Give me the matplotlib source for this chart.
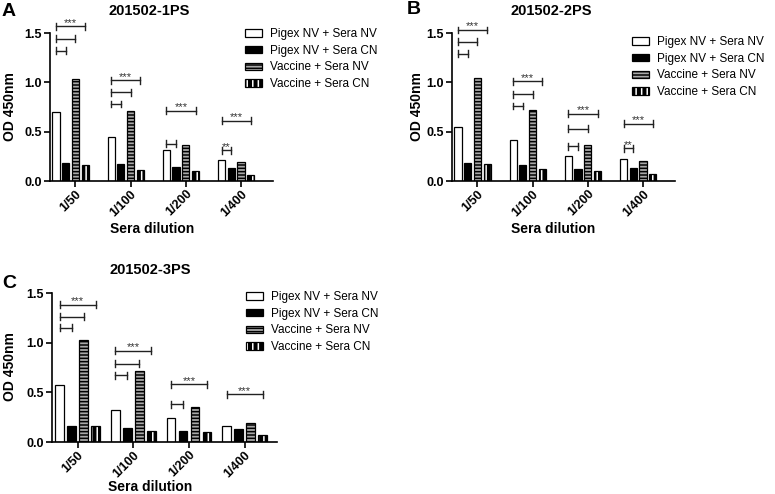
import matplotlib
matplotlib.use("Agg")
import matplotlib.pyplot as plt
from matplotlib.patches import Patch
import numpy as np

plt.rcParams['font.family'] = ['Liberation Sans', 'DejaVu Sans']
plt.rcParams['hatch.linewidth'] = 1.1

dilutions = ['1/50', '1/100', '1/200', '1/400']
series_names = ['Pigex NV + Sera NV', 'Pigex NV + Sera CN',
                'Vaccine + Sera NV', 'Vaccine + Sera CN']
titles = ['201502-1PS', '201502-2PS', '201502-3PS']
letters = ['A', 'B', 'C']

# panel A
a_pigex_nv = [0.70, 0.45, 0.31, 0.21]
a_pigex_cn = [0.18, 0.17, 0.14, 0.13]
a_vacc_nv = [1.03, 0.71, 0.36, 0.19]
a_vacc_cn = [0.16, 0.11, 0.10, 0.06]
# (group, bar compared with Pigex NV + Sera NV, height, label)
a_sig = [(0, 1, 1.32, ''), (0, 2, 1.44, ''), (0, 3, 1.57, '***'),
         (1, 1, 0.78, ''), (1, 2, 0.90, ''), (1, 3, 1.02, '***'),
         (2, 1, 0.38, ''), (2, 3, 0.71, '***'),
         (3, 1, 0.31, '**'), (3, 3, 0.61, '***')]

# panel B
b_pigex_nv = [0.55, 0.42, 0.25, 0.22]
b_pigex_cn = [0.18, 0.16, 0.12, 0.13]
b_vacc_nv = [1.04, 0.72, 0.36, 0.20]
b_vacc_cn = [0.17, 0.12, 0.10, 0.07]
b_sig = [(0, 1, 1.29, ''), (0, 2, 1.41, ''), (0, 3, 1.53, '***'),
         (1, 1, 0.76, ''), (1, 2, 0.88, ''), (1, 3, 1.01, '***'),
         (2, 1, 0.35, ''), (2, 2, 0.53, ''), (2, 3, 0.68, '***'),
         (3, 1, 0.33, '**'), (3, 3, 0.58, '***')]

# panel C
c_pigex_nv = [0.57, 0.32, 0.24, 0.16]
c_pigex_cn = [0.16, 0.14, 0.11, 0.13]
c_vacc_nv = [1.03, 0.71, 0.35, 0.19]
c_vacc_cn = [0.16, 0.11, 0.10, 0.07]
c_sig = [(0, 1, 1.15, ''), (0, 2, 1.26, ''), (0, 3, 1.38, '***'),
         (1, 1, 0.67, ''), (1, 2, 0.79, ''), (1, 3, 0.92, '***'),
         (2, 1, 0.38, ''), (2, 3, 0.58, '***'),
         (3, 3, 0.48, '***')]

W, H = 775, 494


def fx(x):
    return x / W


def fy(y):
    return 1 - y / H


def draw_panel(ax, values, sig, offsets, width):
    x = np.arange(len(dilutions))
    ax.bar(x + offsets[0], values[0], width, facecolor='white', edgecolor='black', linewidth=0.9)
    ax.bar(x + offsets[1], values[1], width, facecolor='black', edgecolor='black', linewidth=0.9)
    ax.bar(x + offsets[2], values[2], width, facecolor='#a8a8a8', edgecolor='black',
           hatch='-----', linewidth=0.9)
    ax.bar(x + offsets[3], values[3], width, facecolor='black', edgecolor='white',
           hatch='|||', linewidth=0.5)
    ax.bar(x + offsets[3], values[3], width, fill=False, edgecolor='black', linewidth=0.9)

    cap = 0.035
    for g, k, y, label in sig:
        x0 = g + offsets[0]
        x1 = g + offsets[k]
        kw = dict(color='#222222', lw=1.0, clip_on=False)
        ax.plot([x0, x1], [y, y], **kw)
        ax.plot([x0, x0], [y - cap, y + cap], **kw)
        ax.plot([x1, x1], [y - cap, y + cap], **kw)
        if label:
            ax.text((x0 + x1) / 2, y + 0.005, label, ha='center', va='baseline',
                    fontsize=8, color='#333333')

    ax.set_xlim(-0.46, 3.58)
    ax.set_ylim(0, 1.5)
    ax.set_yticks([0, 0.5, 1.0, 1.5])
    ax.set_yticklabels(['0.0', '0.5', '1.0', '1.5'], fontsize=9, fontweight='bold')
    ax.set_xticks(x)
    ax.set_xticklabels(dilutions, fontsize=9, fontweight='bold', rotation=45,
                       ha='right', va='top', rotation_mode='anchor')
    for s in ['top', 'right']:
        ax.spines[s].set_visible(False)
    for s in ['left', 'bottom']:
        ax.spines[s].set_linewidth(1.2)
    ax.tick_params(direction='out', length=4, width=1.2, pad=2)
    ax.tick_params(axis='x', pad=1)


fig = plt.figure(figsize=(7.75, 4.94), dpi=100)

# axes boxes in pixels: left, right, top, bottom
boxes = [(50, 273, 33, 181), (452, 675, 33, 181), (52, 277, 293, 442)]
all_values = [[a_pigex_nv, a_pigex_cn, a_vacc_nv, a_vacc_cn],
              [b_pigex_nv, b_pigex_cn, b_vacc_nv, b_vacc_cn],
              [c_pigex_nv, c_pigex_cn, c_vacc_nv, c_vacc_cn]]
all_sig = [a_sig, b_sig, c_sig]
bar_offsets = [np.array([-2, -1, 0, 1]) * 0.176,
               np.array([-2, -1, 0, 1]) * 0.176,
               np.array([-1.5, -0.5, 0.5, 1.5]) * 0.215]
bar_widths = [0.13, 0.13, 0.155]

title_pos = [(149, 11), (551, 11), (150, 270)]
letter_pos = [(9, 12), (414, 10), (9, 283)]
ylabel_pos = [(10, 107), (417, 107), (10, 367)]
xlabel_pos = [(152, 229), (553, 229), (150, 487)]
legend_pos = [(245, 28), (632, 36), (246, 291)]

legend_handles = [
    Patch(facecolor='white', edgecolor='black', linewidth=0.9),
    Patch(facecolor='black', edgecolor='black', linewidth=0.9),
    Patch(facecolor='#a8a8a8', edgecolor='black', hatch='-----', linewidth=0.9),
    (Patch(facecolor='black', edgecolor='white', hatch='|||', linewidth=0.5),
     Patch(fill=False, edgecolor='black', linewidth=0.9)),
]

for i in range(3):
    l, r, t, b = boxes[i]
    ax = fig.add_axes([fx(l), fy(b), (r - l) / W, (b - t) / H])
    draw_panel(ax, all_values[i], all_sig[i], bar_offsets[i], bar_widths[i])

    fig.text(fx(title_pos[i][0]), fy(title_pos[i][1]), titles[i], ha='center', va='center',
             fontsize=10.5, fontweight='bold')
    fig.text(fx(letter_pos[i][0]), fy(letter_pos[i][1]), letters[i], ha='center', va='center',
             fontsize=14, fontweight='bold')
    fig.text(fx(ylabel_pos[i][0]), fy(ylabel_pos[i][1]), 'OD 450nm', ha='center', va='center',
             rotation=90, fontsize=10, fontweight='bold')
    fig.text(fx(xlabel_pos[i][0]), fy(xlabel_pos[i][1]), 'Sera dilution', ha='center', va='center',
             fontsize=10, fontweight='bold')
    ax.legend(legend_handles, series_names, loc='upper left',
              bbox_to_anchor=(fx(legend_pos[i][0]), fy(legend_pos[i][1])),
              bbox_transform=fig.transFigure, frameon=False, borderpad=0, borderaxespad=0,
              handlelength=1.45, handleheight=0.6, handletextpad=0.7, labelspacing=0.4,
              fontsize=8.5)

fig.savefig('out.png', dpi=100)
